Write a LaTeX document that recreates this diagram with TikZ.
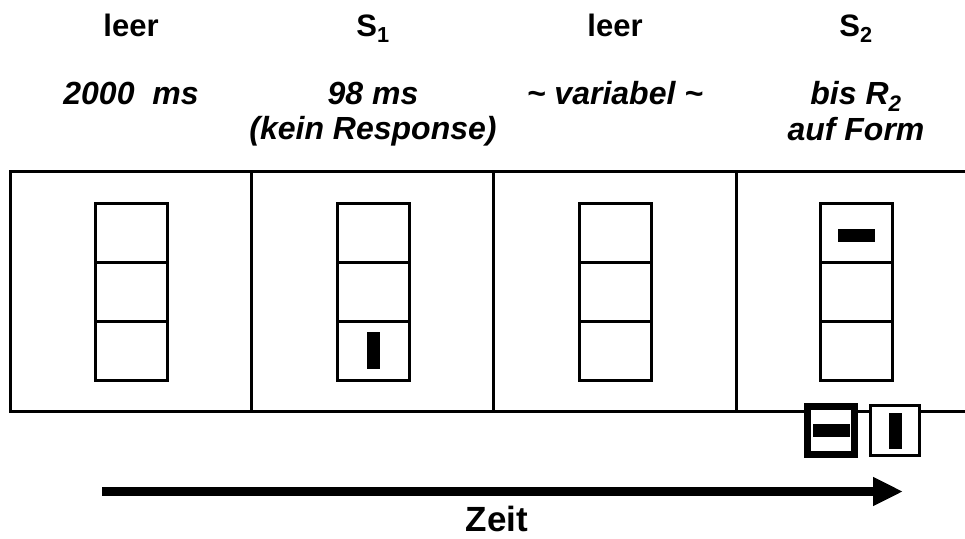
\documentclass[tikz,border=0pt]{standalone}
\usepackage{fontspec}
\setmainfont{Liberation Sans}
\usetikzlibrary{arrows.meta}
\begin{document}
\begin{tikzpicture}[x=1pt,y=-1pt,
  frame/.style={line width=3pt},
  cell/.style={draw,line width=3pt,minimum width=72pt,minimum height=59pt,inner sep=0pt,outer sep=0pt},
  hbar/.style={fill=black,minimum width=37pt,minimum height=13pt,inner sep=0pt},
  vbar/.style={fill=black,minimum width=13pt,minimum height=37pt,inner sep=0pt},
  head/.style={anchor=base,inner sep=0pt,font=\fontsize{31}{33}\selectfont\bfseries},
  sub/.style={anchor=base,inner sep=0pt,font=\fontsize{32}{34}\selectfont\bfseries\itshape},
]
\useasboundingbox (0,0) rectangle (965,538);
% frame
\coordinate (tl) at (10,171.5);
\coordinate (tr) at (965,171.5);
\coordinate (bl) at (10,411);
\coordinate (br) at (965,411);
\draw[frame] (tr) -- (tl) -- (bl) -- (br);
\foreach \x [count=\i] in {251.5,493.5,736} {
  \coordinate (dt\i) at (\x,171.5);
  \coordinate (db\i) at (\x,411);
  \draw[frame] (dt\i) -- (db\i);
}
% stacks
\foreach \x [count=\i] in {131,373,615,856} {
  \node[cell] (c\i a) at (\x,232.5) {};
  \node[cell] (c\i b) at (\x,291.5) {};
  \node[cell] (c\i c) at (\x,350.5) {};
}
\node[vbar] (s1bar) at (c2c) {};
\node[hbar] (s2bar) at (856,235.5) {};
% response boxes
\node[draw,line width=7pt,fill=white,minimum width=47pt,minimum height=48pt,inner sep=0pt] (r1) at (831,430.5) {};
\node[hbar] (r1bar) at (r1) {};
\node[draw,line width=3pt,fill=white,minimum width=49pt,minimum height=50pt,inner sep=0pt] (r2) at (895,430.5) {};
\node[vbar,minimum height=36pt] (r2bar) at (r2) {};
% headers
\node[head] (h1) at (131,36) {leer};
\node[head] (h2) at (373,36) {S\textsubscript{1}};
\node[head] (h3) at (615,36) {leer};
\node[head] (h4) at (856,36) {S\textsubscript{2}};
\node[sub] (t1) at (131,104) {2000\ \ ms};
\node[sub] (t2) at (373,104) {98 ms};
\node[sub] (t2b) at (373,139) {(kein Response)};
\node[sub] (t3) at (615,104) {\textasciitilde{} variabel \textasciitilde};
\node[sub,text depth=0pt] (t4) at (856,104) {bis R\textsubscript{2}};
\node[sub] (t4b) at (856,140) {auf Form};
% time arrow
\coordinate (a0) at (102,491.5);
\coordinate (a1) at (903,491.5);
\draw[line width=9pt,-{Triangle[length=30pt,width=27pt]}] (a0) -- (a1);
\node[head,text depth=0pt,font=\fontsize{35}{37}\selectfont\bfseries] (zeit) at (497,531) {Zeit};
\end{tikzpicture}
\end{document}
